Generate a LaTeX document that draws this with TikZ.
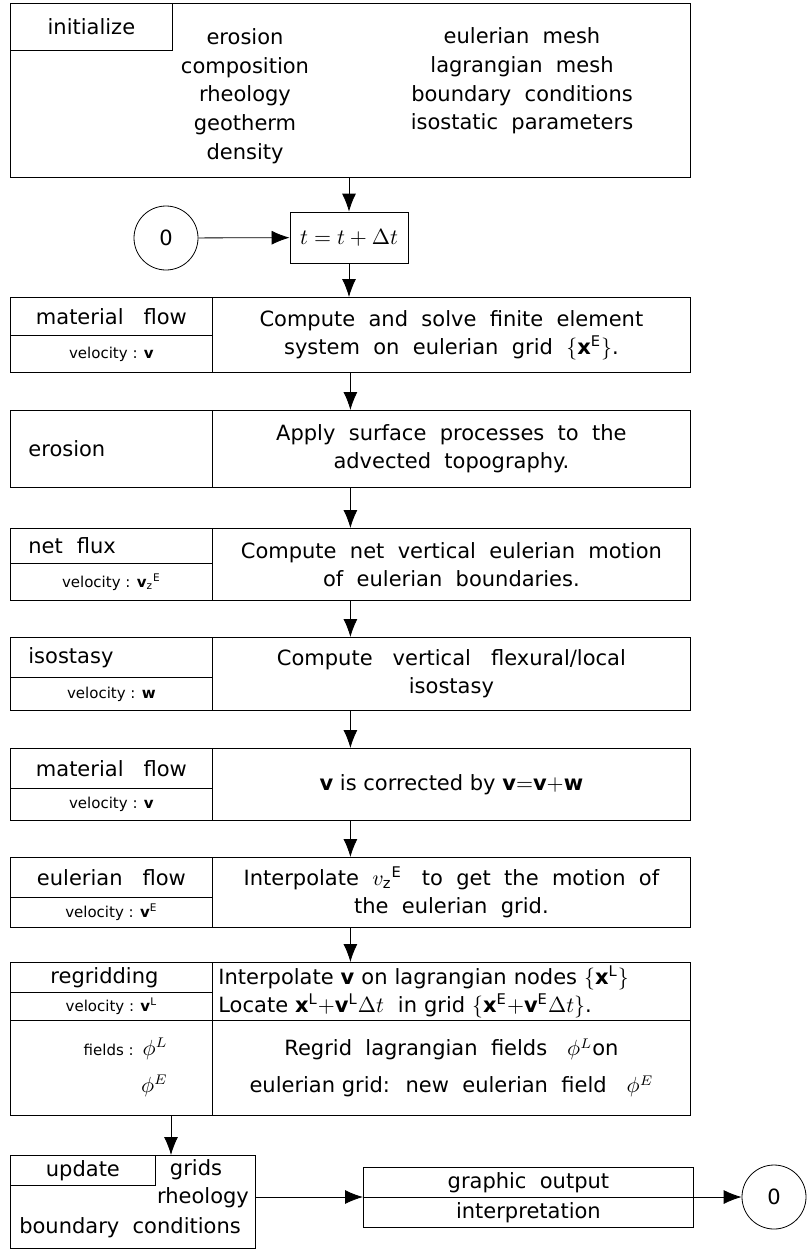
\documentclass[tikz,border=0pt]{standalone}
\usepackage{fontspec}
\setmainfont{DejaVu Sans}
\usetikzlibrary{arrows.meta}
\tikzset{>={Latex[length=9pt,width=7pt]}, line width=1.0pt}
\tikzset{
  cell/.style={draw, rectangle, inner sep=0pt, anchor=north west, align=center,
    font=\fontsize{10.5}{14}\selectfont},
  lcell/.style={cell, align=left, text width=#1},
  txt/.style={inner sep=0pt, align=center, font=\fontsize{10.5}{14.35}\selectfont},
  small/.style={font=\fontsize{7.5}{9}\selectfont},
  stopc/.style={circle, draw, minimum size=32pt, inner sep=0pt,
    font=\fontsize{10.5}{14}\selectfont}
}

\begin{document}
\begin{tikzpicture}[x=0.5pt,y=-0.5pt]
  \useasboundingbox (0,0) rectangle (808,1253);

  % initialize
  \node[cell,minimum width=340pt,minimum height=87pt] (init) at (10,3) {};
  \node[cell,minimum width=81pt,minimum height=23.5pt] (initlab) at (10,3) {initialize};
  \node[txt] (initleft) at (245,96) {erosion\\composition\\rheology\\geotherm\\density};
  \node[txt] (initright) at (522,81)
    {eulerian~~mesh\\lagrangian~~mesh\\boundary~~conditions\\isostatic~~parameters};

  % time step
  \node[cell,anchor=center,minimum width=59pt,minimum height=25.5pt] (tstep) at (349,237.5)
    {$t = t + \Delta t$};
  \node[stopc] (start) at (166,238) {0};
  \draw[->] (init.south -| tstep) -- (tstep);
  \draw[->] (start) -- (tstep);

  % material flow
  \node[cell,minimum width=340pt,minimum height=37.5pt] (mf1) at (10,297) {};
  \node[cell,minimum width=101pt,minimum height=19pt] (mf1lab) at (10,297) {material~~~flow};
  \node[cell,small,minimum width=101pt,minimum height=18.5pt] (mf1vel) at (10,335)
    {velocity : $\mathbf{v}$};
  \node[cell,minimum width=239pt,minimum height=37.5pt] (mf1run) at (212,297)
    {Compute~ and~ solve~ finite~ element\\system~ on~ eulerian~ grid~ $\{\mathbf{x}^{\mathrm{E}}\}$.};
  \draw[->] (tstep) -- (mf1.north -| tstep);

  % erosion
  \node[cell,minimum width=340pt,minimum height=38.5pt] (ero) at (10,410) {};
  \node[lcell=101pt,minimum height=38.5pt] (erolab) at (10,410) {\hspace{9pt}erosion};
  \node[cell,minimum width=239pt,minimum height=38.5pt] (erorun) at (212,410)
    {Apply~ surface~ processes~ to~ the\\advected~ topography.};
  \draw[->] (mf1) -- (ero);

  % net flux
  \node[cell,minimum width=340pt,minimum height=36pt] (nflx) at (10,528) {};
  \node[lcell=101pt,minimum height=17.5pt] (nflxlab) at (10,528) {\hspace{9pt}net~~flux};
  \node[cell,small,minimum width=101pt,minimum height=18.5pt] (nflxvel) at (10,563)
    {velocity : $\mathbf{v}_{\mathrm{z}}{}^{\mathrm{E}}$};
  \node[cell,minimum width=239pt,minimum height=36pt] (nflxrun) at (212,528)
    {Compute~ net~ vertical~ eulerian~ motion\\of~ eulerian~ boundaries.};
  \draw[->] (ero) -- (nflx);

  % isostasy
  \node[cell,minimum width=340pt,minimum height=36.5pt] (iso) at (10,637) {};
  \node[lcell=101pt,minimum height=20pt] (isolab) at (10,637) {\hspace{9pt}isostasy};
  \node[cell,small,minimum width=101pt,minimum height=16.5pt] (isovel) at (10,677)
    {velocity : $\mathbf{w}$};
  \node[cell,minimum width=239pt,minimum height=36.5pt] (isorun) at (212,637)
    {Compute~~ vertical~~ flexural/local\\isostasy};
  \draw[->] (nflx) -- (iso);

  % material flow (corrected)
  \node[cell,minimum width=340pt,minimum height=36pt] (mf2) at (10,748) {};
  \node[cell,minimum width=101pt,minimum height=20pt] (mf2lab) at (10,748) {material~~~flow};
  \node[cell,small,minimum width=101pt,minimum height=16pt] (mf2vel) at (10,788)
    {velocity : $\mathbf{v}$};
  \node[cell,minimum width=239pt,minimum height=36pt] (mf2run) at (212,748)
    {$\mathbf{v}$ is corrected by $\mathbf{v}{=}\mathbf{v}{+}\mathbf{w}$};
  \draw[->] (iso) -- (mf2);

  % eulerian flow
  \node[cell,minimum width=340pt,minimum height=35pt] (eul) at (10,857) {};
  \node[cell,minimum width=101pt,minimum height=20pt] (eullab) at (10,857) {eulerian~~~flow};
  \node[cell,small,minimum width=101pt,minimum height=15pt] (eulvel) at (10,897)
    {velocity : $\mathbf{v}^{\mathrm{E}}$};
  \node[cell,minimum width=239pt,minimum height=35pt] (eulrun) at (212,857)
    {Interpolate~ $v_{\mathrm{z}}{}^{\mathrm{E}}$~~ to~ get~ the~ motion~ of\\the~ eulerian~ grid.};
  \draw[->] (mf2) -- (eul);

  % regridding
  \node[cell,minimum width=340pt,minimum height=76.5pt] (rgd) at (10,962) {};
  \node[lcell=101pt,minimum height=15pt] (rgdlab) at (10,962) {\hspace{20pt}regridding};
  \node[cell,small,minimum width=101pt,minimum height=14pt] (rgdvel) at (10,992)
    {velocity : $\mathbf{v}^{\mathrm{L}}$};
  \node[cell,minimum width=101pt,minimum height=47.5pt] (rgdfld) at (10,1020) {};
  \node[txt,align=right,anchor=east,font=\fontsize{10.5}{18.5}\selectfont] (rgdfldtxt)
    at (168,1067) {{\fontsize{7.5}{9}\selectfont fields :} $\phi^{L}$\\$\phi^{E}$};
  \node[lcell=239pt,minimum height=29pt] (rgdrun) at (212,962)
    {\hspace{3pt}Interpolate $\mathbf{v}$ on lagrangian nodes $\{\mathbf{x}^{\mathrm{L}}\}$\\
     \hspace{3pt}Locate $\mathbf{x}^{\mathrm{L}}{+}\mathbf{v}^{\mathrm{L}}\Delta t$~ in grid $\{\mathbf{x}^{\mathrm{E}}{+}\mathbf{v}^{\mathrm{E}}\Delta t\}$.};
  \node[cell,minimum width=239pt,minimum height=47.5pt,font=\fontsize{10.5}{18.5}\selectfont]
    (rgdmap) at (212,1020)
    {Regrid~ lagrangian~ fields~~ $\phi^{L}$on\\eulerian grid:~ new~ eulerian~ field~~ $\phi^{E}$};
  \draw[->] (eul) -- (rgd);

  % update
  \node[cell,minimum width=122.5pt,minimum height=46.5pt] (upd) at (10,1155) {};
  \node[cell,minimum width=72.5pt,minimum height=15pt] (updlab) at (10,1155) {update};
  \node[txt] (updgrid) at (196,1170) {grids};
  \node[txt] (updrheo) at (203,1198) {rheology};
  \node[txt] (updbc) at (130,1228) {boundary~ conditions};
  \coordinate (updin) at (171,1155);
  \draw[->] (rgd.south -| updin) -- (updin);

  % output
  \node[cell,minimum width=165pt,minimum height=15pt] (gout) at (363,1167) {graphic~ output};
  \node[cell,minimum width=165pt,minimum height=15pt] (gint) at (363,1197) {interpretation};
  \node[stopc] (stop) at (774,1197) {0};
  \draw[->] (upd.east |- gint.north west) -- (gint.north west);
  \draw[->] (gint.north east) -- (stop);
\end{tikzpicture}
\end{document}
